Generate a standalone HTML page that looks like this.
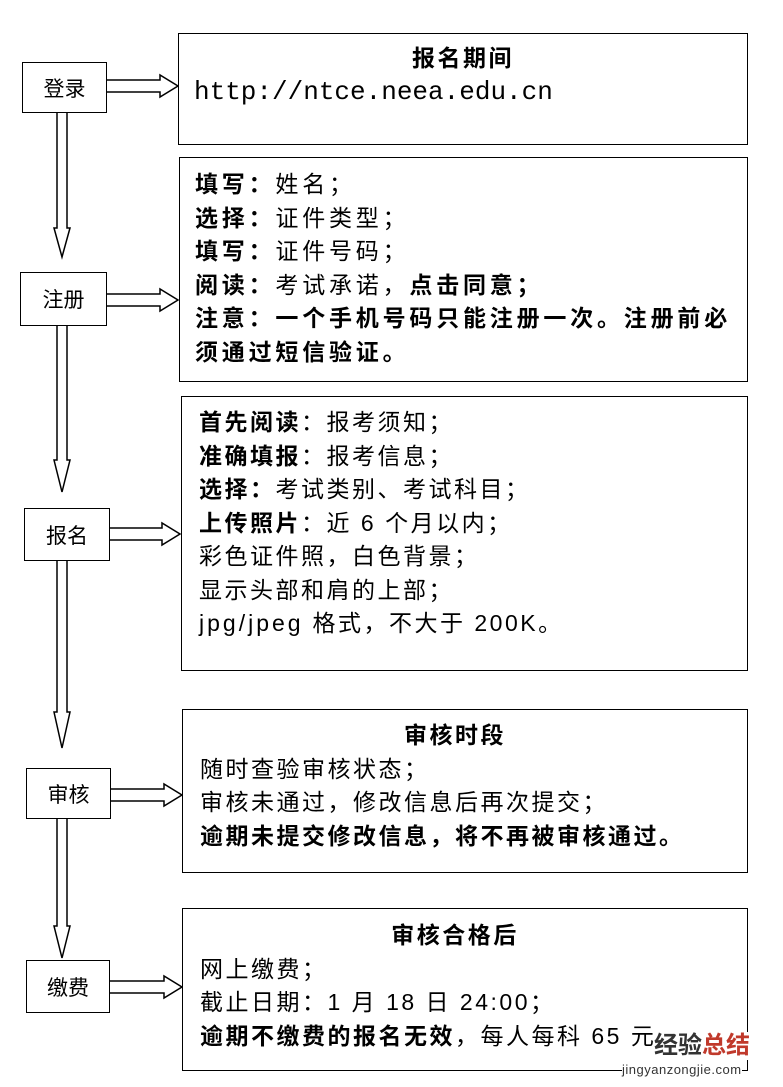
<!DOCTYPE html>
<html><head><meta charset="utf-8"><style>
body{margin:0;width:783px;height:1087px;background:#fff;position:relative;overflow:hidden;font-family:"Liberation Sans","Noto Sans CJK SC",sans-serif;color:#000}
.b{position:absolute;border:1.5px solid #000;box-sizing:border-box;background:#fff}
.l{display:flex;align-items:center;justify-content:center;font-size:21px}
.t{position:absolute;font-size:23px;letter-spacing:2.5px;line-height:33.5px;white-space:nowrap}
.t b{font-weight:bold}
.c{text-align:center;font-weight:bold}
.m{font-family:"Liberation Mono","DejaVu Sans Mono",monospace;letter-spacing:0;font-size:26px}
</style></head><body>
<svg width="783" height="1087" style="position:absolute;left:0;top:0" fill="#fff" stroke="#000" stroke-width="1.5">
<polygon points="57,112 67,112 67,228 70,228 62,257 54,228 57,228"/>
<polygon points="57,325 67,325 67,460 70,460 62,492 54,460 57,460"/>
<polygon points="57,560 67,560 67,712 70,712 62,748 54,712 57,712"/>
<polygon points="57,818 67,818 67,926 70,926 62,958 54,926 57,926"/>
<polygon points="106,80 160,80 160,75 178,86 160,97 160,92 106,92"/>
<polygon points="106,294 160,294 160,289 178,300 160,311 160,306 106,306"/>
<polygon points="109,528 162,528 162,523 180,534 162,545 162,540 109,540"/>
<polygon points="110,789 164,789 164,784 182,795 164,806 164,801 110,801"/>
<polygon points="109,981 164,981 164,976 182,987 164,998 164,993 109,993"/>
</svg>
<div class="b l" style="left:22px;top:62px;width:85px;height:51px">登录</div>
<div class="b l" style="left:20px;top:272px;width:87px;height:54px">注册</div>
<div class="b l" style="left:24px;top:508px;width:86px;height:53px">报名</div>
<div class="b l" style="left:26px;top:768px;width:85px;height:51px">审核</div>
<div class="b l" style="left:26px;top:960px;width:84px;height:53px">缴费</div>

<div class="b" style="left:178px;top:33px;width:570px;height:112px"></div>
<div class="t c" style="left:178px;top:42px;width:570px">报名期间</div>
<div class="t m" style="left:194px;top:76px">http://ntce.neea.edu.cn</div>

<div class="b" style="left:179px;top:157px;width:569px;height:225px"></div>
<div class="t" style="left:195px;top:168px;font-size:23px;letter-spacing:3.8px"><b>填写：</b>姓名；<br><b>选择：</b>证件类型；<br><b>填写：</b>证件号码；<br><b>阅读：</b>考试承诺，<b>点击同意；</b><br><b>注意：一个手机号码只能注册一次。注册前必<br>须通过短信验证。</b></div>

<div class="b" style="left:181px;top:396px;width:567px;height:275px"></div>
<div class="t" style="left:199px;top:406px"><b>首先阅读</b>：报考须知；<br><b>准确填报</b>：报考信息；<br><b>选择：</b>考试类别、考试科目；<br><b>上传照片</b>：近 6 个月以内；<br>彩色证件照，白色背景；<br>显示头部和肩的上部；<br><span style="letter-spacing:3px">jpg/jpeg</span> 格式，不大于 200K。</div>

<div class="b" style="left:182px;top:709px;width:566px;height:164px"></div>
<div class="t" style="left:200px;top:719px"><div class="c" style="width:546px;margin-left:-18px">审核时段</div>随时查验审核状态；<br>审核未通过，修改信息后再次提交；<br><b>逾期未提交修改信息，将不再被审核通过。</b></div>

<div class="b" style="left:182px;top:908px;width:566px;height:163px"></div>
<div class="t" style="left:200px;top:919px"><div class="c" style="width:546px;margin-left:-18px">审核合格后</div>网上缴费；<br>截止日期：1 月 18 日 24:00；<br><b>逾期不缴费的报名无效</b>，每人每科 65 元</div>
<div style="position:absolute;left:654px;top:1032px;font-size:24px;font-weight:bold;background:#fff;line-height:28px"><span style="color:#333">经验</span><span style="color:#c0392b">总结</span></div>
<div style="position:absolute;left:622px;top:1062px;font-size:13px;color:#333;background:#fff;letter-spacing:0.5px">jingyanzongjie.com</div>
</body></html>
